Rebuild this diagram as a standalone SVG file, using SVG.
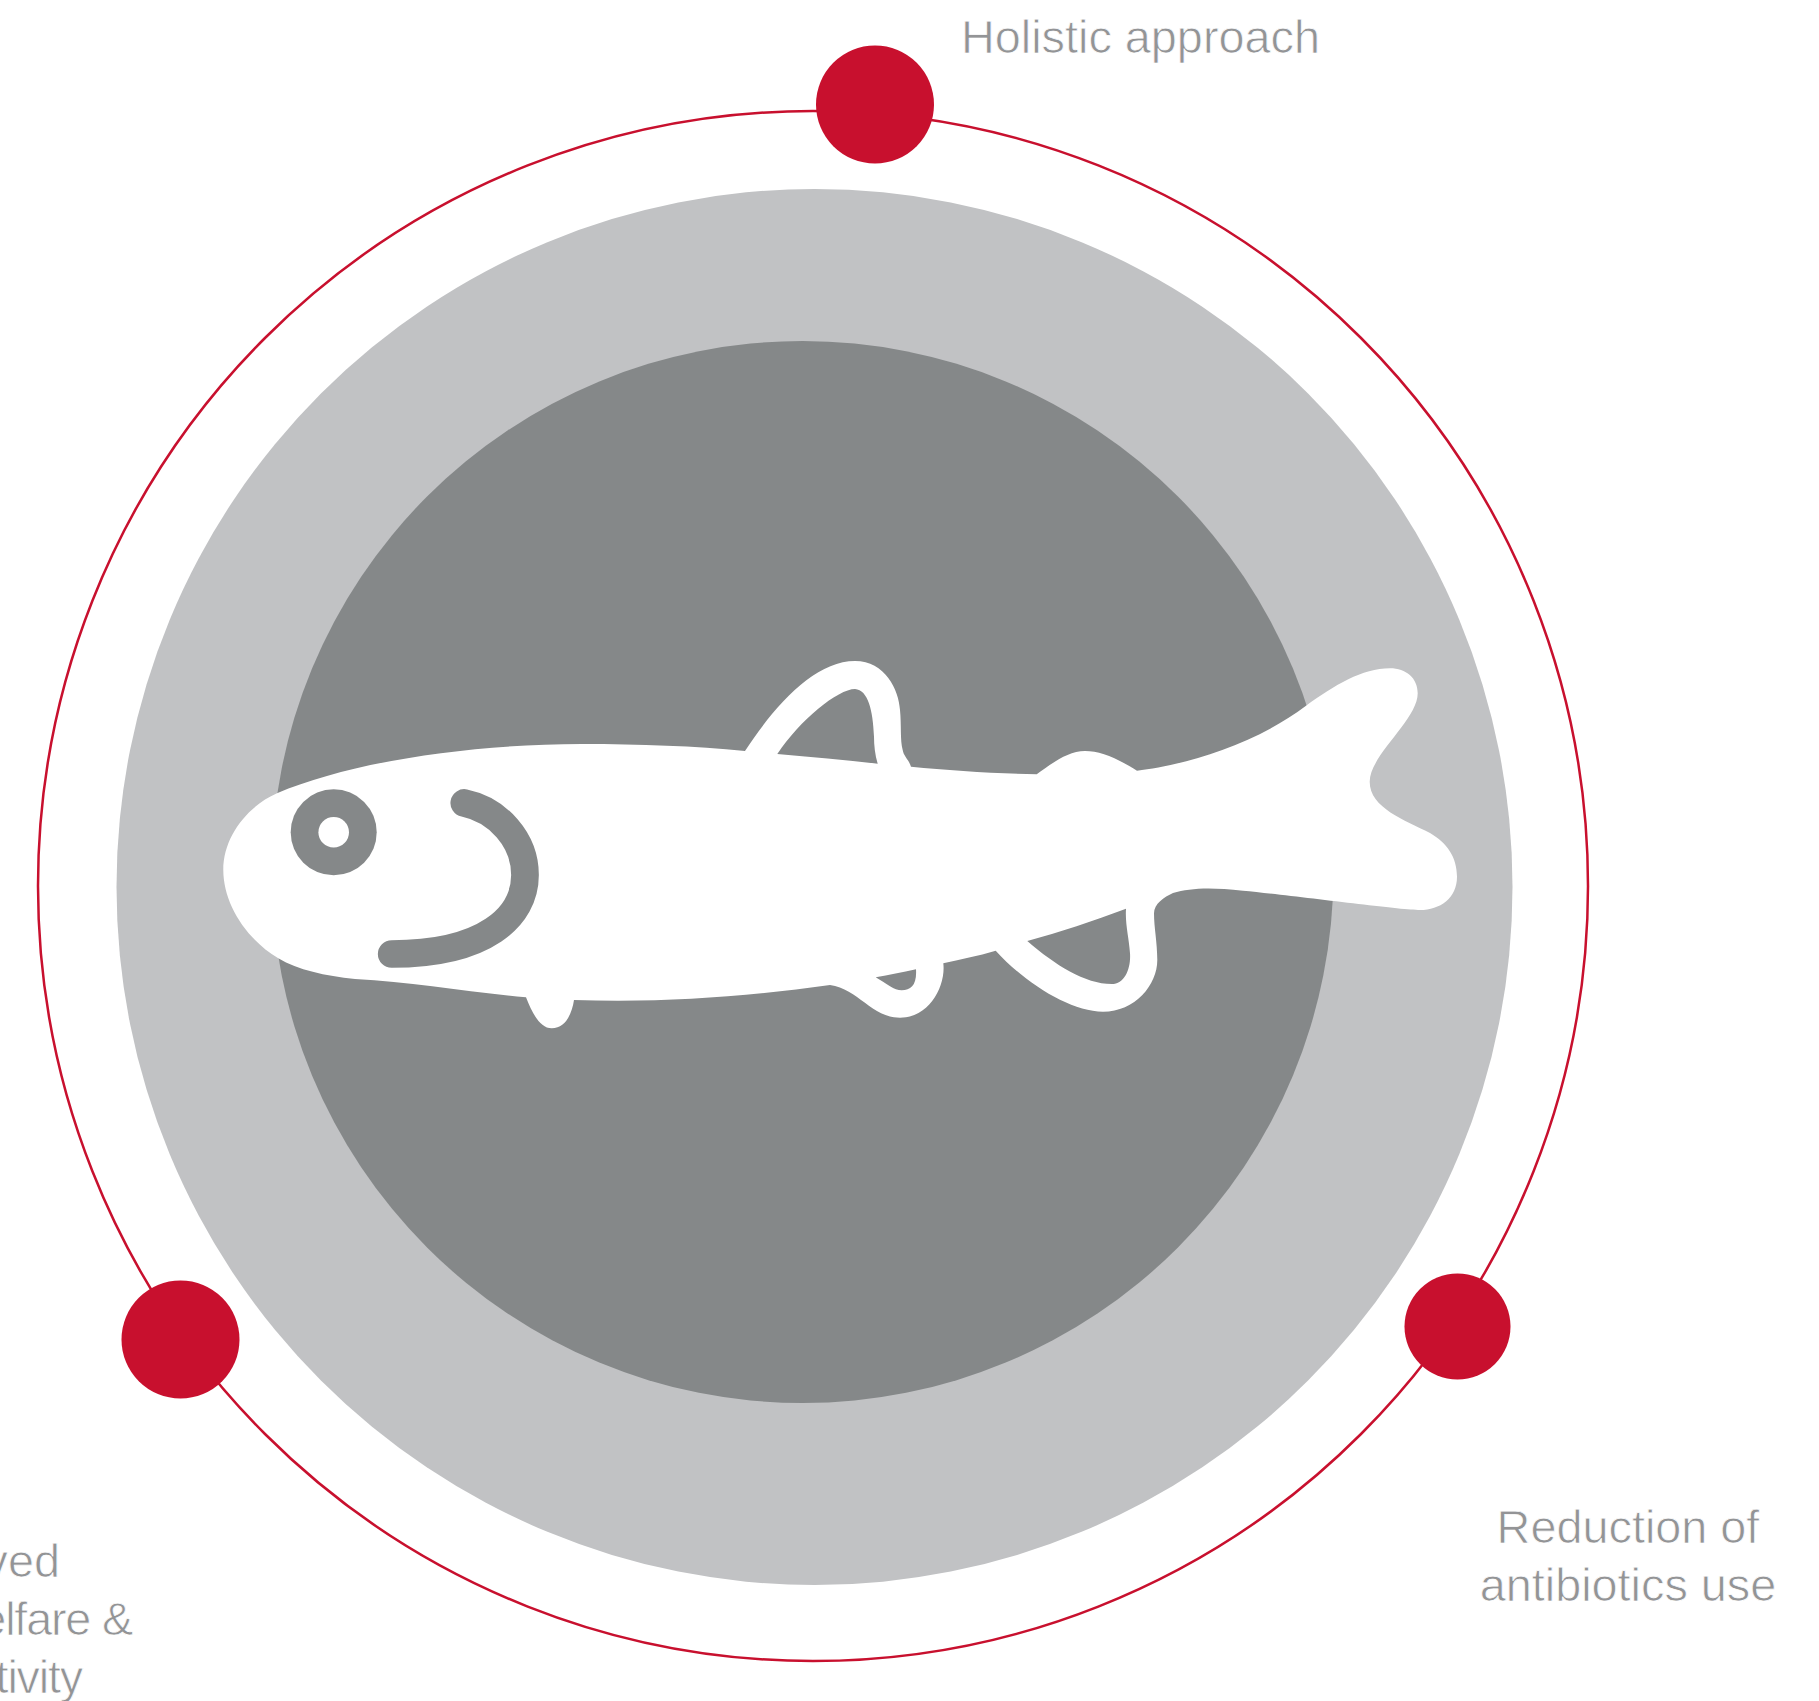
<svg xmlns="http://www.w3.org/2000/svg" width="1819" height="1701" viewBox="0 0 1819 1701">
<style>
.t{font-family:"Liberation Sans",Arial,sans-serif;font-size:46.800px;fill:#939496;stroke:#fff;stroke-width:.75px}
.n{letter-spacing:-1.200px}
.r{fill:#c8102e}
.d{fill:#858889}
</style>
<rect width="1819" height="1701" fill="#fff"/>
<g id="ring"><circle cx="813" cy="886" r="775" fill="none" stroke="#c8102e" stroke-width="2.5"/></g>
<g id="outer-disc"><circle cx="814.500" cy="887" r="698" fill="#c1c2c4"/></g>
<g id="inner-disc"><circle class="d" cx="802.500" cy="872" r="531"/></g>
<g id="fish">
<path fill="#fff" fill-rule="evenodd" d="M277 793.300C350 762 470 744 581.700 744C640 744 695 746 745 751C775 705 815 661 855 661C885 661 899 690 900 710C901.500 725 900 740 902.700 750C903.500 756 909 760 911 766.700C950 770.500 995 773.500 1036.700 774.300C1050 765 1067 751 1085 751C1100 751 1116 757.500 1137 770.700C1178 766 1250 748 1305.700 706C1335 685 1362 668.300 1390 668.300C1406 668.300 1417.700 678 1417.700 693.300C1417.700 720 1369.700 755 1369.700 781.700C1369.700 808 1405 820 1430 833C1447 843 1457 857 1457 876.700C1457 898 1440 910 1420 910C1400 910 1290 895 1243 890.700C1210 887 1190 888 1173 893C1164 897 1154 904 1154 913.300C1154 928 1157.300 942 1157.300 960C1157.300 985 1135 1011.700 1103 1011.700C1070 1011.700 1025 983 995.700 950.700C978 956 960 959.500 943.300 963.300C946 985 930 1017.700 900 1017.700C872 1017.700 858 989 830 985C745 997 660 1003 574 1000C572 1013 566 1028.300 551.700 1028.300C540 1028.300 532 1013 526 997.300C468 992 412 982 355 979C325 976 298 970 278.300 958.300C245 938 223.300 903 223.300 870C223.300 836 248 806 277 793.300Z
M777.300 754C800 720 838 689 855 689C868 690 873 710 874 736.700C874 745 875 755 877.700 763.700C845 760 810 757 777.300 754Z
M875.700 977.300C887 984 894 990.300 901.700 990.300C911 990.300 917 985 916 969.300C902 972.500 889 975 875.700 977.300Z
M1027.300 941C1055 965 1085 984 1111.700 984C1125 984 1131 968 1130 953.300C1129 938 1125 924 1126 908.700C1093 921 1060 932 1027.300 941Z"/>
<circle class="d" cx="333.700" cy="832.300" r="43"/>
<circle cx="333.700" cy="832.300" r="15.300" fill="#fff"/>
<path fill="none" stroke="#858889" stroke-width="27.700" stroke-linecap="round" d="M464.300 803C498 810 525 840 525 875C525 917 485 954 391.700 954"/>
</g>
<g id="node-top"><circle class="r" cx="875" cy="104.500" r="59"/><text class="t" x="961" y="53">Holistic approach</text></g>
<g id="node-right"><circle class="r" cx="1457.500" cy="1326.500" r="53"/><text class="t" text-anchor="middle" x="1628" y="1542.500">Reduction of</text><text class="t" text-anchor="middle" x="1628" y="1600.500">antibiotics use</text></g>
<g id="node-left"><circle class="r" cx="180.500" cy="1339.500" r="59"/><text class="t" text-anchor="end" x="60" y="1577">Improved</text><text class="t n" text-anchor="end" x="132" y="1635">animal welfare &amp;</text><text class="t n" text-anchor="end" x="82" y="1693">productivity</text></g>
</svg>
